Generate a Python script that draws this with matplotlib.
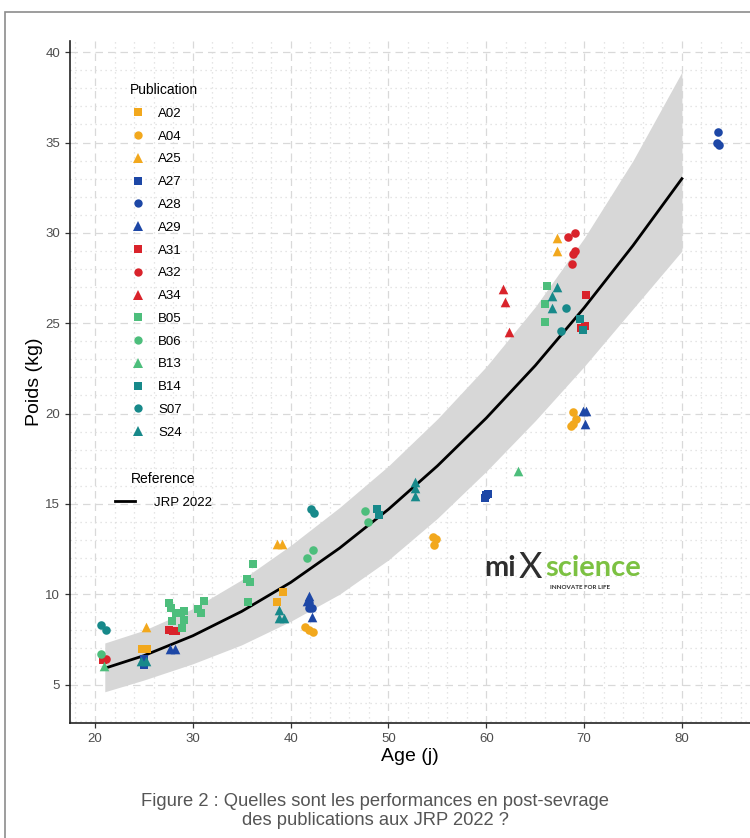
import matplotlib
matplotlib.use("Agg")
import matplotlib.pyplot as plt
from matplotlib import font_manager
from matplotlib.lines import Line2D
from matplotlib.patches import Rectangle

# ---------- police ----------
names = {f.name for f in font_manager.fontManager.ttflist}
NARROW = "Liberation Sans Narrow" if "Liberation Sans Narrow" in names else "Liberation Sans"
plt.rcParams["font.family"] = ["Liberation Sans", "DejaVu Sans"]

# ---------- données ----------
publications = ["A02", "A04", "A25", "A27", "A28", "A29", "A31", "A32", "A34",
                "B05", "B06", "B13", "B14", "S07", "S24"]

A02_age = [24.8, 25.3, 39.2, 38.6]
A02_poids = [6.95, 6.95, 10.1, 9.55]
A04_age = [41.5, 41.9, 42.3, 54.6, 54.9, 54.7, 68.9, 69.2, 68.9, 68.65]
A04_poids = [8.2, 8.0, 7.9, 13.15, 13.05, 12.75, 20.1, 19.7, 19.4, 19.3]
A25_age = [25.2, 38.6, 39.1, 67.2, 67.2]
A25_poids = [8.2, 12.8, 12.8, 29.7, 29.0]
A27_age = [25.0, 25.0, 59.9, 60.2, 60.0]
A27_poids = [6.4, 6.1, 15.3, 15.55, 15.5]
A28_age = [41.9, 42.2, 41.9, 83.7, 83.6, 83.8]
A28_poids = [9.5, 9.25, 9.25, 35.6, 34.95, 34.85]
A29_age = [27.7, 28.2, 41.9, 41.7, 42.2, 69.85, 70.2, 70.1]
A29_poids = [6.95, 6.95, 9.9, 9.6, 8.75, 20.15, 20.15, 19.4]
A31_age = [20.8, 27.6, 28.0, 28.3, 70.2, 69.7, 70.05]
A31_poids = [6.35, 8.0, 7.95, 7.95, 26.55, 24.75, 24.85]
A32_age = [21.1, 68.4, 69.1, 69.1, 68.9, 68.8]
A32_poids = [6.4, 29.75, 30.0, 29.0, 28.85, 28.3]
A34_age = [61.7, 61.9, 62.3]
A34_poids = [26.9, 26.2, 24.5]
B05_age = [27.55, 27.8, 28.25, 28.75, 29.1, 27.9, 29.1, 28.9, 30.55, 30.8, 31.15,
           36.15, 35.55, 35.8, 35.65, 66.2, 66.05, 66.05]
B05_poids = [9.5, 9.25, 8.95, 8.95, 9.05, 8.5, 8.6, 8.15, 9.2, 8.95, 9.6,
             11.65, 10.85, 10.65, 9.55, 27.05, 26.05, 25.05]
B06_age = [20.65, 42.3, 41.7, 47.65, 47.9]
B06_poids = [6.7, 12.45, 12.0, 14.6, 14.0]
B13_age = [20.9, 63.2]
B13_poids = [6.05, 16.8]
B14_age = [48.85, 49.0, 69.6, 69.9]
B14_poids = [14.7, 14.4, 25.25, 24.65]
S07_age = [20.6, 21.1, 42.1, 42.35, 68.2, 67.6]
S07_poids = [8.3, 8.0, 14.7, 14.5, 25.85, 24.55]
S24_age = [24.7, 25.2, 38.8, 38.8, 39.3, 52.7, 52.7, 52.7, 67.2, 66.7, 66.7]
S24_poids = [6.3, 6.3, 9.1, 8.7, 8.7, 16.2, 15.9, 15.45, 27.0, 26.5, 25.85]

# courbe de référence JRP 2022 et son intervalle
ref_age = [21, 25, 30, 35, 40, 45, 50, 55, 60, 65, 70, 75, 80]
ref_poids = [5.9, 6.6, 7.7, 9.05, 10.65, 12.55, 14.7, 17.1, 19.75, 22.65, 25.85, 29.3, 33.0]
ref_bas = [4.6, 5.25, 6.15, 7.2, 8.5, 10.0, 11.9, 14.2, 16.8, 19.6, 22.6, 25.8, 29.0]
ref_haut = [7.3, 8.0, 9.2, 10.8, 12.7, 14.8, 17.1, 19.7, 22.6, 25.9, 29.7, 34.0, 38.9]

series = {
    "A02": (A02_age, A02_poids), "A04": (A04_age, A04_poids), "A25": (A25_age, A25_poids),
    "A27": (A27_age, A27_poids), "A28": (A28_age, A28_poids), "A29": (A29_age, A29_poids),
    "A31": (A31_age, A31_poids), "A32": (A32_age, A32_poids), "A34": (A34_age, A34_poids),
    "B05": (B05_age, B05_poids), "B06": (B06_age, B06_poids), "B13": (B13_age, B13_poids),
    "B14": (B14_age, B14_poids), "S07": (S07_age, S07_poids), "S24": (S24_age, S24_poids),
}

# ---------- style ----------
couleurs = ["#F2A81D"] * 3 + ["#1D47A6"] * 3 + ["#D9232B"] * 3 + ["#4DBE7C"] * 3 + ["#17898A"] * 3
formes = ["s", "o", "^"] * 5
tailles = {"s": 36, "o": 38, "^": 48}

fig = plt.figure(figsize=(7.5, 8.38), dpi=100)
ax = fig.add_axes([0.0933, 0.1372, 0.9067, 0.8141])

ax.fill_between(ref_age, ref_bas, ref_haut, color="#D7D7D7", lw=0, zorder=1)
ax.plot(ref_age, ref_poids, color="black", lw=2.0, zorder=3)

for pub, col, mk in zip(publications, couleurs, formes):
    x, y = series[pub]
    ax.scatter(x, y, marker=mk, s=tailles[mk], color=col, lw=0, zorder=4)

ax.set_xlim(17.44, 86.96)
ax.set_ylim(2.87, 40.63)
ax.set_xticks([20, 30, 40, 50, 60, 70, 80])
ax.set_yticks([5, 10, 15, 20, 25, 30, 35, 40])
ax.set_xticks(range(18, 87, 2), minor=True)
ax.set_yticks(range(3, 41), minor=True)
ax.grid(which="major", color="#D9D9D9", ls=(0, (6, 4)), lw=0.9, zorder=0)
ax.grid(which="minor", color="#DDDDDD", ls=(0, (1, 3)), lw=0.9, zorder=0)
ax.set_axisbelow(True)
for s in ["top", "right"]:
    ax.spines[s].set_visible(False)
for s in ["left", "bottom"]:
    ax.spines[s].set_color("#222222")
    ax.spines[s].set_linewidth(1.2)
ax.tick_params(which="major", length=3.5, width=0.9, color="#333333",
               labelsize=9.5, labelcolor="#4D4D4D")
ax.tick_params(which="minor", length=0)
for lab in ax.get_xticklabels() + ax.get_yticklabels():
    lab.set_family(NARROW)

ax.set_xlabel("Age (j)", fontsize=14, family=NARROW, labelpad=2)
ax.set_ylabel("Poids (kg)", fontsize=14, family=NARROW, labelpad=2)

# ---------- légendes ----------
poignees = [Line2D([], [], ls="", marker=mk, color=col, markersize=6 if mk != "^" else 7,
                   markeredgewidth=0) for col, mk in zip(couleurs, formes)]
leg1 = ax.legend(poignees, publications, title="Publication", loc="upper left",
                 bbox_to_anchor=(130 / 750, 1 - 83 / 838), bbox_transform=fig.transFigure,
                 frameon=False, fontsize=9.5, title_fontsize=10, labelspacing=0.8,
                 handlelength=1.2, handletextpad=0.92, borderaxespad=0, borderpad=0)
leg1._legend_box.align = "left"
ax.add_artist(leg1)
leg2 = ax.legend([Line2D([], [], color="black", lw=2.0)], ["JRP 2022"], title="Reference",
                 loc="upper left", bbox_to_anchor=(115 / 750, 1 - 472 / 838),
                 bbox_transform=fig.transFigure, frameon=False, fontsize=9.5,
                 title_fontsize=10, labelspacing=0.8, handlelength=1.52,
                 handletextpad=1.4, borderaxespad=0, borderpad=0)

# ---------- logo ----------
fig.text(484 / 750, 1 - 576 / 838, "mi", fontsize=21, color="#2E2E2E", family="Lato",
         fontweight="bold", ha="left", va="baseline")
fig.text(519 / 750, 1 - 578 / 838, "X", fontsize=26, color="#2E2E2E", family="Lato",
         ha="left", va="baseline")
fig.text(545 / 750, 1 - 576 / 838, "science", fontsize=21, color="#7CC142", family="Lato",
         fontweight="bold", ha="left", va="baseline")
fig.text(550 / 750, 1 - 589 / 838, "INNOVATE FOR LIFE", fontsize=4.5, color="#2E2E2E",
         family="Lato", fontweight="bold", ha="left", va="baseline")

# ---------- légende de figure ----------
fig.text(0.5, 1 - 811 / 838, "Figure 2 : Quelles sont les performances en post-sevrage\n"
         "des publications aux JRP 2022 ?", ha="center", va="center", fontsize=13.2,
         color="#555555", family=NARROW, linespacing=1.2)

fig.add_artist(Rectangle((5 / 750, -0.01), 2, 1 - 12 / 838 + 0.01, transform=fig.transFigure,
                         fill=False, edgecolor="#8C8C8C", lw=1.2))

fig.savefig("out.png", dpi=100)
